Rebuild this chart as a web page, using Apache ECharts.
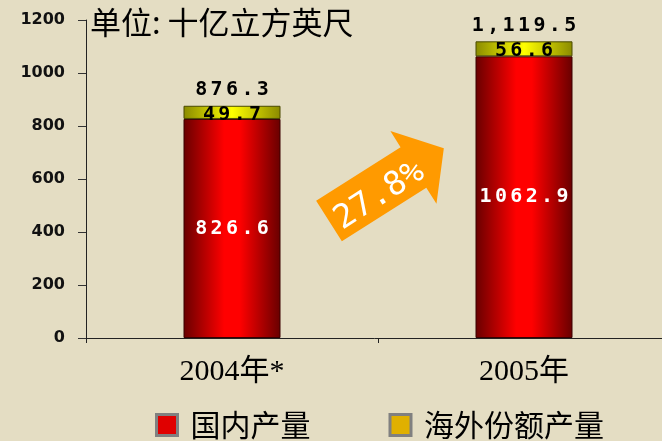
<!DOCTYPE html>
<html>
<head>
<meta charset="utf-8">
<script src="https://cdn.jsdelivr.net/npm/echarts@6/dist/echarts.min.js"></script>
<style>
html, body { margin: 0; padding: 0; }
#main { width: 662px; height: 441px; }
</style>
</head>
<body>
<div id="main"></div>
<script>
// 数据
var years = ['2004年*', '2005年']
var domestic = [826.6, 1062.9]
var overseas = [49.7, 56.6]
var totals = [876.3, 1119.5]
var yTicks = [0, 200, 400, 600, 800, 1000, 1200]
var growth = '27.8%'

var redGrad = new echarts.graphic.LinearGradient(0, 0, 1, 0, [
    { offset: 0, color: '#680000' },
    { offset: 0.42, color: '#ff0000' },
    { offset: 0.58, color: '#ff0000' },
    { offset: 1, color: '#680000' }
])
var yellowGrad = new echarts.graphic.LinearGradient(0, 0, 1, 0, [
    { offset: 0, color: '#8a8a00' },
    { offset: 0.5, color: '#ffff00' },
    { offset: 1, color: '#8a8a00' }
])
var monoFont = 'DejaVu Sans Mono'

// 字符间距加宽
function spaced(str) {
    return str.split('').map(function (ch) { return '{c|' + ch + '}' }).join('')
}
function richLabel(color) {
    return {
        c: {
            width: 15.4,
            align: 'center',
            color: color,
            fontSize: 20,
            fontWeight: 'bold',
            fontFamily: monoFont
        }
    }
}

var myChart = echarts.init(document.getElementById('main'))
var option = {
    backgroundColor: '#e4ddc3',
    animation: false,
    grid: { left: 86, width: 584, top: 20, bottom: 103, outerBoundsMode: 'none' },
    legend: {
        left: 150,
        bottom: -4,
        itemWidth: 21,
        itemHeight: 21,
        itemGap: 78,
        icon: 'rect',
        textStyle: { fontSize: 30, color: '#000', fontFamily: 'Noto Sans CJK SC', padding: [0, 0, 0, 8] },
        data: [
            { name: '国内产量', itemStyle: { color: '#e00000', borderColor: '#808080', borderWidth: 3 } },
            { name: '海外份额产量', itemStyle: { color: '#e0b000', borderColor: '#808080', borderWidth: 3 } }
        ]
    },
    xAxis: {
        type: 'category',
        data: years,
        axisLine: { lineStyle: { color: '#222', width: 1 } },
        axisTick: { show: true, length: 5, lineStyle: { color: '#222' } },
        axisLabel: {
            fontSize: 30,
            color: '#000',
            margin: 19,
            fontFamily: 'Liberation Serif, Noto Sans CJK SC'
        }
    },
    yAxis: {
        type: 'value',
        min: 0,
        max: yTicks[yTicks.length - 1],
        interval: 200,
        splitLine: { show: false },
        axisLine: { show: true, lineStyle: { color: '#222', width: 1 } },
        axisTick: { show: true, length: 8, lineStyle: { color: '#333' } },
        axisLabel: {
            fontSize: 16,
            fontWeight: 'bold',
            color: '#111',
            margin: 21,
            fontFamily: 'DejaVu Sans',
            formatter: function (v) { return String(v) }
        }
    },
    series: [
        {
            name: '国内产量',
            type: 'bar',
            stack: 'total',
            barWidth: 97,
            data: domestic,
            itemStyle: { color: redGrad, borderColor: '#3a0000', borderWidth: 1 },
            label: {
                show: true,
                position: 'inside',
                formatter: function (p) { return spaced(p.value.toFixed(1)) },
                rich: richLabel('#fff')
            }
        },
        {
            name: '海外份额产量',
            type: 'bar',
            stack: 'total',
            barWidth: 97,
            data: overseas,
            itemStyle: { color: yellowGrad, borderColor: '#4a4a00', borderWidth: 1 },
            label: {
                show: true,
                position: 'inside',
                offset: [0, 2],
                formatter: function (p) { return spaced(p.value.toFixed(1)) },
                rich: richLabel('#000')
            }
        },
        {
            name: '合计',
            type: 'bar',
            barWidth: 97,
            barGap: '-100%',
            z: 1,
            data: totals,
            itemStyle: { color: 'transparent' },
            label: {
                show: true,
                position: 'top',
                distance: 6,
                formatter: function (p) {
                    return spaced(p.value.toLocaleString('en-US', { minimumFractionDigits: 1 }))
                },
                rich: richLabel('#000')
            }
        }
    ],
    graphic: [
        {
            type: 'text',
            left: 90,
            top: 7,
            style: {
                text: '单位: 十亿立方英尺',
                fontSize: 31,
                fill: '#000',
                fontFamily: 'Noto Sans CJK SC'
            }
        },
        {
            type: 'group',
            x: 329,
            y: 221,
            rotation: 32.4 * Math.PI / 180,
            children: [
                {
                    type: 'polygon',
                    shape: { points: [[0, -24], [100, -24], [100, -43], [136, 0], [100, 43], [100, 24], [0, 24]] },
                    style: { fill: '#ff9a00' }
                },
                {
                    type: 'text',
                    x: 56,
                    y: 6,
                    style: {
                        text: growth,
                        fontSize: 33,
                        fill: '#fff',
                        fontFamily: monoFont,
                        align: 'center',
                        verticalAlign: 'middle'
                    }
                }
            ]
        }
    ]
}
myChart.setOption(option)
</script>
</body>
</html>
